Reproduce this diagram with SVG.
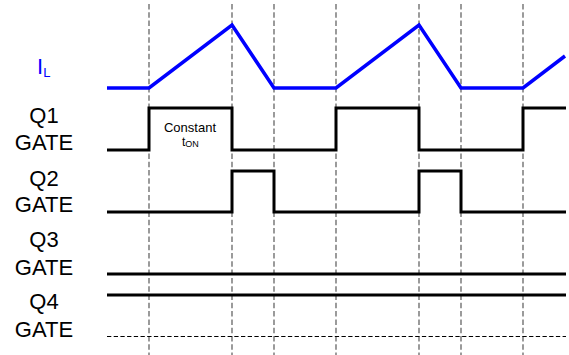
<svg xmlns="http://www.w3.org/2000/svg" width="569" height="355" viewBox="0 0 569 355">
<style>
.lbl{font-family:"Liberation Sans",Arial,sans-serif;font-size:22px;fill:#000;text-anchor:middle}
.small{font-family:"Liberation Sans",Arial,sans-serif;fill:#000}
.grid{stroke:#666;stroke-width:1.3;stroke-dasharray:5.5,2.8;fill:none}
.sig{stroke:#000;stroke-width:3;fill:none;stroke-linejoin:miter}
.cur{stroke:#0000ff;stroke-width:3.5;fill:none;stroke-linejoin:miter}
</style>
<rect width="569" height="355" fill="#fff"/>
<g id="grid">
<line class="grid" x1="149" y1="4" x2="149" y2="355"/>
<line class="grid" x1="232" y1="4" x2="232" y2="355"/>
<line class="grid" x1="274" y1="4" x2="274" y2="355"/>
<line class="grid" x1="336" y1="4" x2="336" y2="355"/>
<line class="grid" x1="419" y1="4" x2="419" y2="355"/>
<line class="grid" x1="461" y1="4" x2="461" y2="355"/>
<line class="grid" x1="523" y1="4" x2="523" y2="355"/>
</g>
<g id="IL">
<text x="37" y="74" font-family="Liberation Sans,Arial,sans-serif" font-size="22" fill="#0000ff">I<tspan font-size="13" dy="3">L</tspan></text>
<polyline class="cur" points="107,88 149,88 232,25 274,88 336,88 419,25 461,88 523,88 565,56"/>
</g>
<g id="Q1">
<text class="lbl" x="44" y="123">Q1</text>
<text class="lbl" x="44" y="150">GATE</text>
<polyline class="sig" points="107,150 149,150 149,108 232,108 232,150 336,150 336,108 419,108 419,150 523,150 523,108 566,108"/>
<text class="small" x="190" y="132" font-size="13" text-anchor="middle">Constant</text>
<text class="small" x="182" y="146" font-size="12">t<tspan font-size="9" dy="1">ON</tspan></text>
</g>
<g id="Q2">
<text class="lbl" x="44" y="186">Q2</text>
<text class="lbl" x="44" y="212">GATE</text>
<polyline class="sig" points="107,212 232,212 232,171 274,171 274,212 419,212 419,171 461,171 461,212 566,212"/>
</g>
<g id="Q3">
<text class="lbl" x="44" y="247">Q3</text>
<text class="lbl" x="44" y="275">GATE</text>
<line class="sig" x1="107" y1="274" x2="566" y2="274"/>
</g>
<g id="Q4">
<text class="lbl" x="44" y="309">Q4</text>
<text class="lbl" x="44" y="337">GATE</text>
<line class="sig" x1="107" y1="295" x2="566" y2="295"/>
<line x1="107" y1="336.5" x2="566" y2="336.5" stroke="#000" stroke-width="1" stroke-dasharray="4.3,2.4"/>
</g>
</svg>
